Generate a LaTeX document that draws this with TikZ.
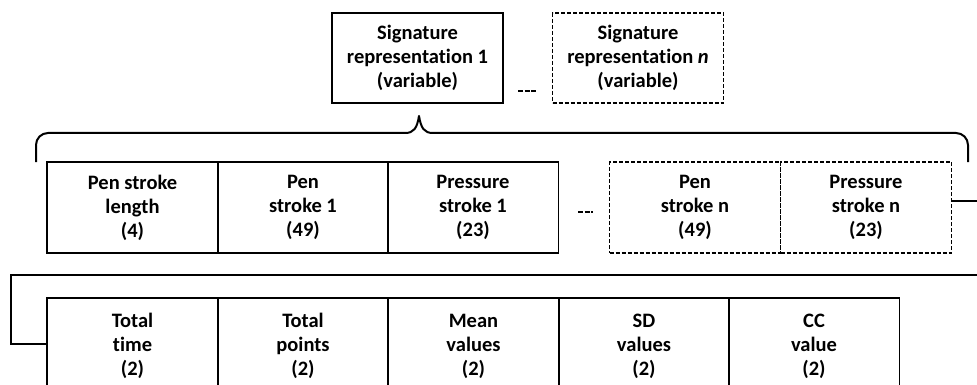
\documentclass[tikz,border=0pt]{standalone}
\usepackage{fontspec}
\setmainfont[Ligatures=NoCommon]{Carlito}
\begin{document}
\begin{tikzpicture}[x=1pt,y=-1pt,
  box/.style={draw,line width=1.4pt,rectangle,inner sep=0pt,align=center,
    font=\fontsize{20.5}{24}\selectfont\bfseries},
  topbox/.style={box,minimum width=171pt,minimum height=90pt},
  rowbox/.style={box,minimum width=171pt,minimum height=91pt},
  featbox/.style={box,minimum width=171pt,minimum height=96pt},
  dbox/.style={dash pattern=on 4pt off 2pt},
  conn/.style={draw,line width=2pt},
  gap/.style={line width=2.8pt,dash pattern=on 5pt off 1.5pt}]
\useasboundingbox (0,0) rectangle (977,385);

% signature representations
\node[topbox] (s1) at (417.5,58) {Signature\\representation 1\\(variable)};
\node[topbox,dbox] (sn) at (638,58) {Signature\\representation \textit{n}\\(variable)};
\coordinate (g1a) at (518,91);
\coordinate (g1b) at (537,91);
\draw[gap] (g1a) -- (g1b);

% brace below the first representation
\coordinate (bl) at (36,162);
\coordinate (br) at (968,162);
\coordinate (tip) at (419,116);
\draw[conn,line join=round] (bl) -- (36,145) arc[start angle=180,end angle=270,radius=12]
  -- (405,133) .. controls (414,133) and (417,128) .. (tip)
  .. controls (421,128) and (424,133) .. (433,133)
  -- (956,133) arc[start angle=270,end angle=360,radius=12] -- (br);

% stroke fields
\node[rowbox] (psl) at (132.5,207.5) {Pen stroke\\length\\(4)};
\node[rowbox] (ps1) at (303,207.5) {Pen\\stroke 1\\(49)};
\node[rowbox] (prs1) at (473,207.5) {Pressure\\stroke 1\\(23)};
\node[rowbox,dbox] (psn) at (695,207.5) {Pen\\stroke n\\(49)};
\node[rowbox,dbox] (prsn) at (866,207.5) {Pressure\\stroke n\\(23)};
\coordinate (g2a) at (578,212);
\coordinate (g2b) at (593,212);
\draw[gap] (g2a) -- (g2b);

% global features
\node[featbox] (tt) at (132.5,346) {Total\\time\\(2)};
\node[featbox] (tp) at (303,346) {Total\\points\\(2)};
\node[featbox] (mv) at (473.5,346) {Mean\\values\\(2)};
\node[featbox] (sd) at (644,346) {SD\\values\\(2)};
\node[featbox] (cc) at (814,346) {CC\\value\\(2)};

% links across the line break
\coordinate (out1) at (980,201);
\draw[line width=1.4pt] ([yshift=6.5pt]prsn.east) -- (out1);
\coordinate (in1) at (980,275);
\coordinate (lc) at (11,275);
\draw[conn] (in1) -- (lc) |- ([yshift=2pt]tt.west);
\end{tikzpicture}
\end{document}
